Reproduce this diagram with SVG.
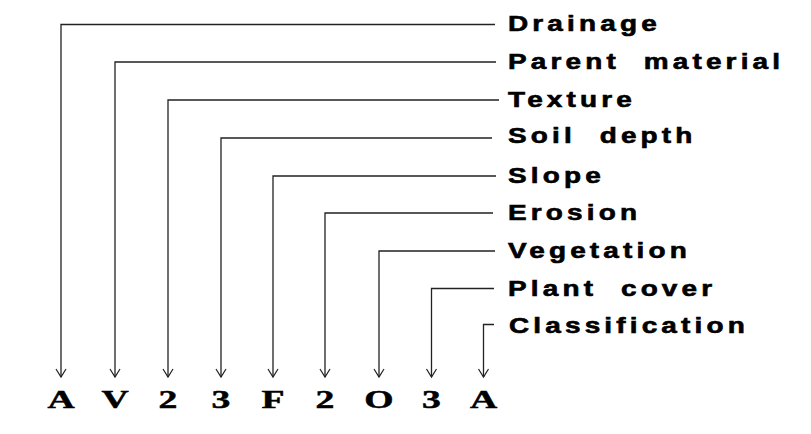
<svg xmlns="http://www.w3.org/2000/svg" width="811" height="434" viewBox="0 0 811 434">
<style>
.lbl{font-family:"Liberation Sans",Arial,sans-serif;font-weight:bold;font-size:21.5px;letter-spacing:3.2px;fill:#000;stroke:#000;stroke-width:0.6}
.code{font-family:"Liberation Serif","Times New Roman",serif;font-weight:bold;font-size:26px;fill:#000;stroke:#000;stroke-width:0.5;text-anchor:middle}
.conn{fill:none;stroke:#222;stroke-width:1.3}
</style>
<defs>
<marker id="arr" markerUnits="userSpaceOnUse" markerWidth="14" markerHeight="12" viewBox="0 0 14 12" refX="7" refY="10" orient="0" overflow="visible">
<path d="M2,2 L7,10 L12,2" fill="none" stroke="#222" stroke-width="1.2"/>
</marker>
</defs>
<rect width="811" height="434" fill="#fff"/>
<g id="connectors" class="conn">
<path d="M495,24.5 H61 V377" marker-end="url(#arr)"/>
<path d="M496,62 H115 V377" marker-end="url(#arr)"/>
<path d="M499,100 H168 V377" marker-end="url(#arr)"/>
<path d="M492,138 H221 V377" marker-end="url(#arr)"/>
<path d="M496,176 H273 V377" marker-end="url(#arr)"/>
<path d="M493,213 H325 V377" marker-end="url(#arr)"/>
<path d="M495,251 H379 V377" marker-end="url(#arr)"/>
<path d="M494,288.5 H431.5 V377" marker-end="url(#arr)"/>
<path d="M494,324.5 H483.5 V377" marker-end="url(#arr)"/>
</g>
<g id="label-drainage"><text class="lbl" transform="translate(508,30.5) scale(1.3,1)">Drainage</text></g>
<g id="label-parent-material"><text class="lbl" transform="translate(508,69) scale(1.3,1)" xml:space="preserve">Parent  material</text></g>
<g id="label-texture"><text class="lbl" transform="translate(508,107) scale(1.3,1)">Texture</text></g>
<g id="label-soil-depth"><text class="lbl" transform="translate(508,143) scale(1.3,1)" xml:space="preserve">Soil  depth</text></g>
<g id="label-slope"><text class="lbl" transform="translate(508,183) scale(1.3,1)">Slope</text></g>
<g id="label-erosion"><text class="lbl" transform="translate(508,220) scale(1.3,1)">Erosion</text></g>
<g id="label-vegetation"><text class="lbl" transform="translate(508,258) scale(1.3,1)">Vegetation</text></g>
<g id="label-plant-cover"><text class="lbl" transform="translate(508,296) scale(1.3,1)" xml:space="preserve">Plant  cover</text></g>
<g id="label-classification"><text class="lbl" transform="translate(509,333) scale(1.3,1)">Classification</text></g>
<g id="code-1"><text class="code" transform="translate(61,408) scale(1.45,1)">A</text></g>
<g id="code-2"><text class="code" transform="translate(115,408) scale(1.45,1)">V</text></g>
<g id="code-3"><text class="code" transform="translate(168,408) scale(1.45,1)">2</text></g>
<g id="code-4"><text class="code" transform="translate(221,408) scale(1.45,1)">3</text></g>
<g id="code-5"><text class="code" transform="translate(273,408) scale(1.45,1)">F</text></g>
<g id="code-6"><text class="code" transform="translate(325,408) scale(1.45,1)">2</text></g>
<g id="code-7"><text class="code" transform="translate(379,408) scale(1.45,1)">O</text></g>
<g id="code-8"><text class="code" transform="translate(431.5,408) scale(1.45,1)">3</text></g>
<g id="code-9"><text class="code" transform="translate(483.5,408) scale(1.45,1)">A</text></g>
</svg>
